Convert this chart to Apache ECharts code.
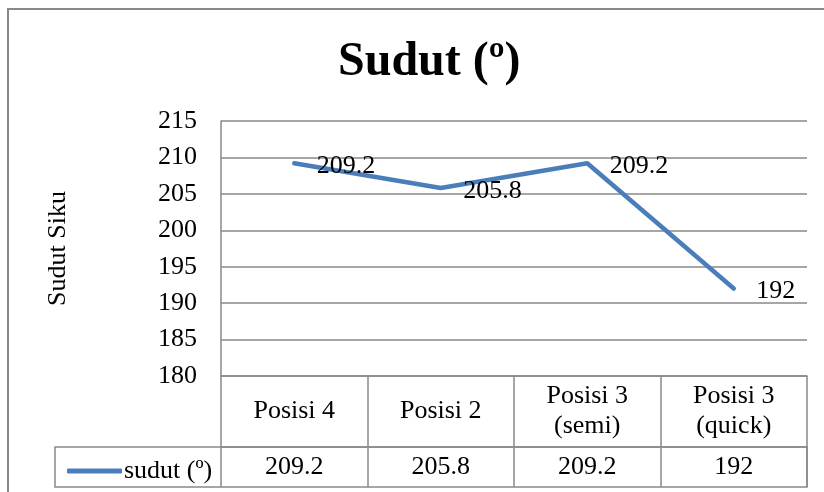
<!DOCTYPE html>
<html>
<head>
<meta charset="utf-8">
<script src="https://cdn.jsdelivr.net/npm/echarts@6/dist/echarts.min.js"></script>
<style>
    html, body { margin: 0; padding: 0; background: #fff; }
    #chart { width: 824px; height: 492px; }
</style>
</head>
<body>
<div id="chart"></div>
<script>
    // data
    var categories = ['Posisi 4', 'Posisi 2', 'Posisi 3\n(semi)', 'Posisi 3\n(quick)'];
    var values = [209.2, 205.8, 209.2, 192];
    var seriesName = 'sudut (º)';
    var yTicks = {min: 180, max: 215, interval: 5};

    var FONT = '"Liberation Serif", "Times New Roman", serif';
    var GRAY = '#898989';
    var BLUE = '#4A7EBB';

    // layout
    var gridLeft = 221, gridRight = 807, gridTop = 121, gridBottom = 376;
    var rowHead = 71, rowData = 40, legendCellLeft = 55;

    var chart = echarts.init(document.getElementById('chart'));

    var option = {
        animation: false,
        backgroundColor: '#fff',
        title: {
            text: 'Sudut (º)',
            left: 333,
            top: 34,
            textStyle: {fontFamily: FONT, fontSize: 48, fontWeight: 'bold', color: '#000'}
        },
        legend: {
            data: [seriesName],
            left: legendCellLeft + 7,
            top: gridBottom + rowHead + 6,
            icon: 'roundRect',
            itemWidth: 55,
            itemHeight: 5,
            textStyle: {fontFamily: FONT, fontSize: 26, color: '#000', padding: [0, 0, 0, -3]}
        },
        grid: {
            left: gridLeft,
            right: 824 - gridRight,
            top: gridTop,
            bottom: 492 - gridBottom
        },
        xAxis: [
            {
                type: 'category',
                data: categories,
                boundaryGap: true,
                axisLine: {show: true, lineStyle: {color: GRAY, width: 1.5}},
                axisTick: {show: true, length: rowHead + rowData, lineStyle: {color: GRAY, width: 1.5}},
                axisLabel: {
                    margin: rowHead / 2,
                    verticalAlign: 'middle',
                    lineHeight: 30,
                    fontFamily: FONT, fontSize: 26, color: '#000'
                }
            },
            {
                // baris data tabel
                type: 'category',
                position: 'bottom',
                offset: rowHead,
                data: values.map(function (v) { return String(v); }),
                boundaryGap: true,
                axisLine: {show: true, lineStyle: {color: GRAY, width: 1.5}},
                axisTick: {show: false},
                axisLabel: {
                    margin: rowData / 2,
                    verticalAlign: 'middle',
                    fontFamily: FONT, fontSize: 26, color: '#000'
                }
            }
        ],
        yAxis: {
            type: 'value',
            min: yTicks.min,
            max: yTicks.max,
            interval: yTicks.interval,
            name: 'Sudut Siku',
            nameLocation: 'middle',
            nameGap: 150,
            nameRotate: 90,
            nameTextStyle: {fontFamily: FONT, fontSize: 26, color: '#000'},
            axisLine: {show: true, lineStyle: {color: GRAY, width: 1.5}},
            axisTick: {show: false},
            axisLabel: {margin: 24, fontFamily: FONT, fontSize: 26, color: '#000'},
            splitLine: {lineStyle: {color: GRAY, width: 1.5}}
        },
        series: [{
            name: seriesName,
            type: 'line',
            data: values,
            showSymbol: true,
            symbol: 'circle',
            symbolSize: 1,
            lineStyle: {color: BLUE, width: 4.5, cap: 'round', join: 'round'},
            itemStyle: {color: BLUE},
            label: {
                show: true,
                position: 'right',
                distance: 22,
                offset: [0, 3],
                fontFamily: FONT, fontSize: 26, color: '#000'
            }
        }],
        graphic: [
            {
                // bingkai luar
                type: 'rect',
                shape: {x: 8, y: 9, width: 840, height: 520},
                style: {fill: 'none', stroke: GRAY, lineWidth: 2},
                silent: true
            },
            {
                // sel legenda + baris data
                type: 'rect',
                shape: {x: legendCellLeft, y: gridBottom + rowHead, width: gridRight - legendCellLeft, height: rowData},
                style: {fill: 'none', stroke: GRAY, lineWidth: 1.5},
                silent: true
            }
        ]
    };

    chart.setOption(option);
</script>
</body>
</html>
